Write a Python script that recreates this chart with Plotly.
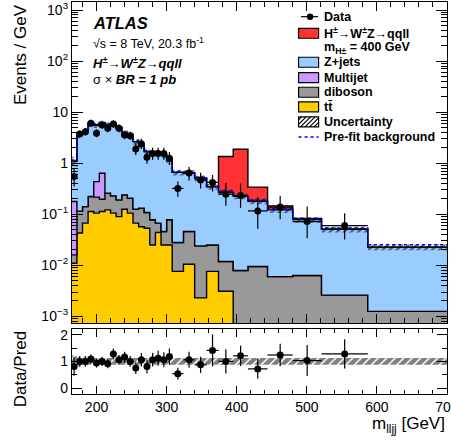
import numpy as np
import plotly.graph_objects as go

# ---------------- data ----------------
bin_edges = [164, 172, 180, 188, 196, 204, 212, 220, 228, 236, 244, 252, 260, 268,
             276, 284, 292, 300, 308, 324, 340, 357, 374, 395, 416, 444, 480, 521, 587, 700]

data_vals = [0.55, 3.74, 4.15, 6.06, 3.86, 5.62, 4.84, 5.87, 4.84, 3.58, 3.43, 1.9, 2.4, 1.3,
             1.55, 1.55, 1.55, 1.25, 0.32, 0.64, 0.47, 0.42, 0.247, 0.232, 0.116, 0.138,
             0.072, 0.06, None]
data_err_up = [0.25, 0.7, 0.75, 1.0, 0.75, 1.0, 0.9, 1.0, 0.9, 0.75, 0.7, 0.55, 0.6, 0.4,
               0.45, 0.45, 0.45, 0.4, 0.12, 0.2, 0.18, 0.17, 0.16, 0.17, 0.1, 0.09,
               0.07, 0.045, None]
data_err_dn = [0.2, 0.6, 0.65, 0.9, 0.65, 0.85, 0.8, 0.9, 0.8, 0.65, 0.6, 0.45, 0.5, 0.33,
               0.38, 0.38, 0.38, 0.33, 0.1, 0.18, 0.15, 0.14, 0.1, 0.1, 0.064, 0.058,
               0.038, 0.028, None]

ttbar = [0.011, 0.043, 0.067, 0.113, 0.105, 0.113, 0.122, 0.105, 0.090, 0.125, 0.105, 0.067,
         0.057, 0.053, 0.025, 0.044, 0.025, 0.025, 0.0076, 0.0105, 0.0023, 0.0076, 0.0031,
         0, 0, 0, 0, 0, 0]
diboson = [0.005, 0.072, 0.074, 0.109, 0.111, 0.084, 0.137, 0.124, 0.101, 0.115, 0.101, 0.059,
           0.075, 0.055, 0.053, 0.023, 0.021, 0.053, 0.0204, 0.0355, 0.0217, 0.0174, 0.0088,
           0.0079, 0.0095, 0.0060, 0.0063, 0.0026, 0.00125]
multijet = [0.162, 0, 0, 0, 0.22, 0.44, 0, 0, 0, 0, 0, 0, 0, 0, 0, 0, 0, 0, 0, 0, 0, 0, 0,
            0, 0, 0, 0, 0, 0]
zjets = [0.92, 3.49, 4.01, 5.68, 5.16, 5.36, 5.34, 5.67, 4.66, 3.66, 3.34, 2.52, 2.07, 1.58,
         1.53, 1.54, 1.40, 1.04, 0.632, 0.604, 0.486, 0.32, 0.258, 0.217, 0.170, 0.116,
         0.072, 0.048, 0.0215]
signal = [0, 0, 0, 0, 0, 0, 0, 0, 0, 0, 0, 0, 0, 0, 0, 0, 0, 0, 0, 0, 0, 0.005, 1.08, 1.655,
          0.16, 0.024, 0.004, 0.001, 0]
prefit = [1.15, 3.75, 4.35, 6.2, 5.9, 6.3, 5.9, 6.3, 5.1, 4.1, 3.7, 2.8, 2.3, 1.78, 1.7, 1.7,
          1.52, 1.18, 0.69, 0.68, 0.535, 0.36, 0.285, 0.235, 0.19, 0.128, 0.082, 0.054, 0.0252]
unc_rel = [0.22, 0.15, 0.14, 0.13, 0.13, 0.13, 0.13, 0.13, 0.13, 0.13, 0.13, 0.13, 0.13, 0.13,
           0.13, 0.13, 0.13, 0.13, 0.13, 0.13, 0.13, 0.13, 0.13, 0.13, 0.13, 0.13, 0.13,
           0.13, 0.13]

ratio_vals = [0.81, 1.0, 1.0, 1.09, 0.94, 1.0, 0.91, 1.28, 1.06, 1.16, 1.0, 0.75, 1.06, 0.81,
              1.06, 1.12, 1.06, 1.18, 0.54, 1.06, 0.87, 1.41, 1.0, 1.21, 0.72, 1.24, 1.03,
              1.28, None]
ratio_err = [0.35, 0.2, 0.2, 0.17, 0.17, 0.17, 0.17, 0.2, 0.18, 0.2, 0.2, 0.22, 0.25, 0.25,
             0.25, 0.28, 0.28, 0.3, 0.22, 0.3, 0.3, 0.6, 0.45, 0.38, 0.37, 0.42, 0.58, 0.55,
             None]

x_ticks = [200, 300, 400, 500, 600, 700]
y_ticks = [1e-3, 1e-2, 1e-1, 1, 10, 100, 1000]
y_ticktext = ["10<sup>\u22123</sup>", "10<sup>\u22122</sup>", "10<sup>\u22121</sup>", "1", "10",
              "10<sup>2</sup>", "10<sup>3</sup>"]
r_ticks = [0, 1, 2]

# ---------------- colours / geometry ----------------
C_TT = "#ffcc00"
C_DB = "#999999"
C_MJ = "#cc99ff"
C_ZJ = "#99ccff"
C_SIG = "#ff3333"
FONT = "Liberation Sans"

W, H = 451, 443
ML, MR, MT, MB = 72.3, 4.3, 2.0, 48.7
PW = W - ML - MR
PH = H - MT - MB


def px(xp):
    return (xp - ML) / PW


def py(yp):
    return (H - MB - yp) / PH


edges = np.array(bin_edges, dtype=float)
centers = 0.5 * (edges[:-1] + edges[1:])
halfw = 0.5 * (edges[1:] - edges[:-1])


def step(vals):
    v = list(vals)
    return v + [v[-1]]


floor = 1e-7
tt = np.array(ttbar, float)
db = np.array(diboson, float)
mj = np.array(multijet, float)
zj = np.array(zjets, float)
sg = np.array(signal, float)
unc = np.array(unc_rel, float)
c1 = np.where(tt > 0, tt, floor)
c2 = tt + db
c3 = c2 + mj
c4 = c3 + zj
c5 = c4 + sg

fig = go.Figure()
LW = 1.4

# base for stacking
fig.add_trace(go.Scatter(x=edges, y=[floor] * len(edges), mode="lines", line=dict(width=0),
                         hoverinfo="skip", showlegend=False, xaxis="x", yaxis="y"))
for cum, col in [(c1, C_TT), (c2, C_DB), (c3, C_MJ), (c4, C_ZJ), (c5, C_SIG)]:
    fig.add_trace(go.Scatter(x=edges, y=step(cum), mode="lines", line_shape="hv",
                             line=dict(color="black", width=LW), fill="tonexty",
                             fillcolor=col, showlegend=False, xaxis="x", yaxis="y"))

# uncertainty band (main)
fig.add_trace(go.Scatter(x=edges, y=step(c4 * (1 - unc)), mode="lines", line_shape="hv",
                         line=dict(width=0), showlegend=False, xaxis="x", yaxis="y"))
fig.add_trace(go.Scatter(x=edges, y=step(c4 * (1 + unc)), mode="lines", line_shape="hv",
                         line=dict(width=0), fill="tonexty", fillcolor="rgba(0,0,0,0)",
                         fillpattern=dict(shape="/", fgcolor="black", bgcolor="rgba(0,0,0,0)",
                                          size=5, solidity=0.5),
                         showlegend=False, xaxis="x", yaxis="y"))

# pre-fit background
fig.add_trace(go.Scatter(x=edges, y=step(prefit), mode="lines", line_shape="hv",
                         line=dict(color="#0000ff", width=1.5, dash="dot"),
                         showlegend=False, xaxis="x", yaxis="y"))

# data
idx = [i for i, v in enumerate(data_vals) if v is not None]
fig.add_trace(go.Scatter(
    x=centers[idx], y=[data_vals[i] for i in idx], mode="markers",
    marker=dict(color="black", size=7),
    error_y=dict(type="data", symmetric=False, array=[data_err_up[i] for i in idx],
                 arrayminus=[data_err_dn[i] for i in idx], color="black", thickness=1.2, width=0),
    error_x=dict(type="data", array=halfw[idx], color="black", thickness=1.2, width=0),
    showlegend=False, xaxis="x", yaxis="y"))

# ratio panel band
fig.add_trace(go.Scatter(x=edges, y=step(1 - unc), mode="lines", line_shape="hv",
                         line=dict(width=0), showlegend=False, xaxis="x2", yaxis="y2"))
fig.add_trace(go.Scatter(x=edges, y=step(1 + unc), mode="lines", line_shape="hv",
                         line=dict(width=0), fill="tonexty", fillcolor="rgba(0,0,0,0)",
                         fillpattern=dict(shape="/", fgcolor="black", bgcolor="rgba(0,0,0,0)",
                                          size=6, solidity=0.75),
                         showlegend=False, xaxis="x2", yaxis="y2"))
ridx = [i for i, v in enumerate(ratio_vals) if v is not None]
fig.add_trace(go.Scatter(
    x=centers[ridx], y=[ratio_vals[i] for i in ridx], mode="markers",
    marker=dict(color="black", size=7),
    error_y=dict(type="data", array=[ratio_err[i] for i in ridx], color="black",
                 thickness=1.2, width=0),
    error_x=dict(type="data", array=halfw[ridx], color="black", thickness=1.2, width=0),
    showlegend=False, xaxis="x2", yaxis="y2"))

axis_common = dict(showline=True, linecolor="black", linewidth=1.2, mirror="ticks",
                   ticks="inside", tickcolor="black", showgrid=False, zeroline=False,
                   automargin=False, ticklabeloverflow="allow",
                   tickfont=dict(family=FONT, size=14, color="black"))

fig.update_layout(
    width=W, height=H, margin=dict(l=ML, r=MR, t=MT, b=MB),
    paper_bgcolor="white", plot_bgcolor="rgba(0,0,0,0)", showlegend=False,
    font=dict(family=FONT, color="black"),
    xaxis=dict(axis_common, domain=[0, 1], anchor="y", range=[165, 700], tickvals=x_ticks,
               showticklabels=False, ticklen=9, tickwidth=1,
               minor=dict(ticks="inside", dtick=20, tick0=0, ticklen=5, tickcolor="black")),
    yaxis=dict(axis_common, domain=[py(323.5), 1], anchor="x", type="log",
               range=[-3.135, 3.157], tickvals=y_ticks, ticktext=y_ticktext, ticklen=11,
               minor=dict(ticks="inside", tickmode="array", ticklen=6, tickcolor="black",
                          tickvals=[k * 10.0 ** e for e in range(-4, 4) for k in range(2, 10)])),
    xaxis2=dict(axis_common, domain=[0, 1], anchor="y2", range=[165, 700], tickvals=x_ticks,
                ticktext=[str(v) for v in x_ticks], ticklen=8,
                minor=dict(ticks="inside", dtick=20, tick0=0, ticklen=4, tickcolor="black")),
    yaxis2=dict(axis_common, domain=[0, py(329.3)], anchor="x2", range=[-0.22, 2.21],
                tickvals=r_ticks, ticklen=10,
                minor=dict(ticks="inside", dtick=0.5, tick0=0, ticklen=5, tickcolor="black")),
)

ann = []


def text(xp, yp, s, size, xanchor="left", yanchor="middle", angle=0):
    ann.append(dict(x=px(xp), y=py(yp), xref="paper", yref="paper", text=s, showarrow=False,
                    xanchor=xanchor, yanchor=yanchor, textangle=angle,
                    font=dict(family=FONT, size=size, color="black")))


# axis titles
text(21, 2, "Events / GeV", 17, xanchor="center", yanchor="top", angle=-90)
text(21, 369, "Data/Pred", 17, xanchor="center", yanchor="middle", angle=-90)
text(447, 425, "m<sub>lljj</sub> [GeV]", 17, xanchor="right", yanchor="middle")

# labels top-left
text(91, 23, "<b><i>ATLAS</i></b>", 16.5)
text(91, 43, "\u221as = 8 TeV, 20.3 fb<sup>-1</sup>", 12.5)
text(91, 63, "<b><i>H<sup>\u00b1</sup>\u2192W<sup>\u00b1</sup>Z\u2192qqll</i></b>", 13)
text(91, 80, "\u03c3 \u00d7 <b><i>BR = 1 pb</i></b>", 13)

# legend
LX = 322
leg_rows = [(16.7, "Data"), (33.3, "H<sup>\u00b1</sup>\u2192W<sup>\u00b1</sup>Z\u2192qqll"),
            (48.0, "m<sub>H\u00b1</sub> = 400 GeV"), (62.3, "Z+jets"), (77.7, "Multijet"),
            (92.3, "diboson"), (107.0, "tt\u0304"), (122.0, "Uncertainty"),
            (137.0, "Pre-fit background")]
for yy, s in leg_rows:
    text(LX, yy, "<b>" + s + "</b>", 12.5)

shapes = []


def box(yc, col):
    shapes.append(dict(type="rect", xref="paper", yref="paper", x0=px(298.5), x1=px(318.5),
                       y0=py(yc + 5), y1=py(yc - 5), fillcolor=col,
                       line=dict(color="black", width=1.2)))


box(33.3, C_SIG)
box(62.3, C_ZJ)
box(77.7, C_MJ)
box(92.3, C_DB)
box(107.0, C_TT)
box(122.0, "white")
# hatch in uncertainty box
bx0, bx1, by0, by1 = 298.5, 318.5, 117.0, 127.0
c = bx0 + by0 + 3
while c < bx1 + by1:
    xa = max(bx0, c - by1)
    xb = min(bx1, c - by0)
    if xb > xa:
        shapes.append(dict(type="line", xref="paper", yref="paper", x0=px(xa), y0=py(c - xa),
                           x1=px(xb), y1=py(c - xb), line=dict(color="black", width=1.2)))
    c += 4.5
# data symbol
shapes.append(dict(type="line", xref="paper", yref="paper", x0=px(301), x1=px(318),
                   y0=py(16.7), y1=py(16.7), line=dict(color="black", width=1.2)))
shapes.append(dict(type="circle", xref="paper", yref="paper", x0=px(306.8), x1=px(313.2),
                   y0=py(19.9), y1=py(13.5), fillcolor="black", line=dict(color="black", width=0)))
# pre-fit symbol
shapes.append(dict(type="line", xref="paper", yref="paper", x0=px(298.5), x1=px(318.5),
                   y0=py(137), y1=py(137), line=dict(color="#0000ff", width=1.5, dash="dot")))

fig.update_layout(annotations=ann, shapes=shapes)
fig.write_html("out.html", config={"displayModeBar": False},
               post_script="document.body.style.margin='0px';document.body.style.overflow='hidden';")
